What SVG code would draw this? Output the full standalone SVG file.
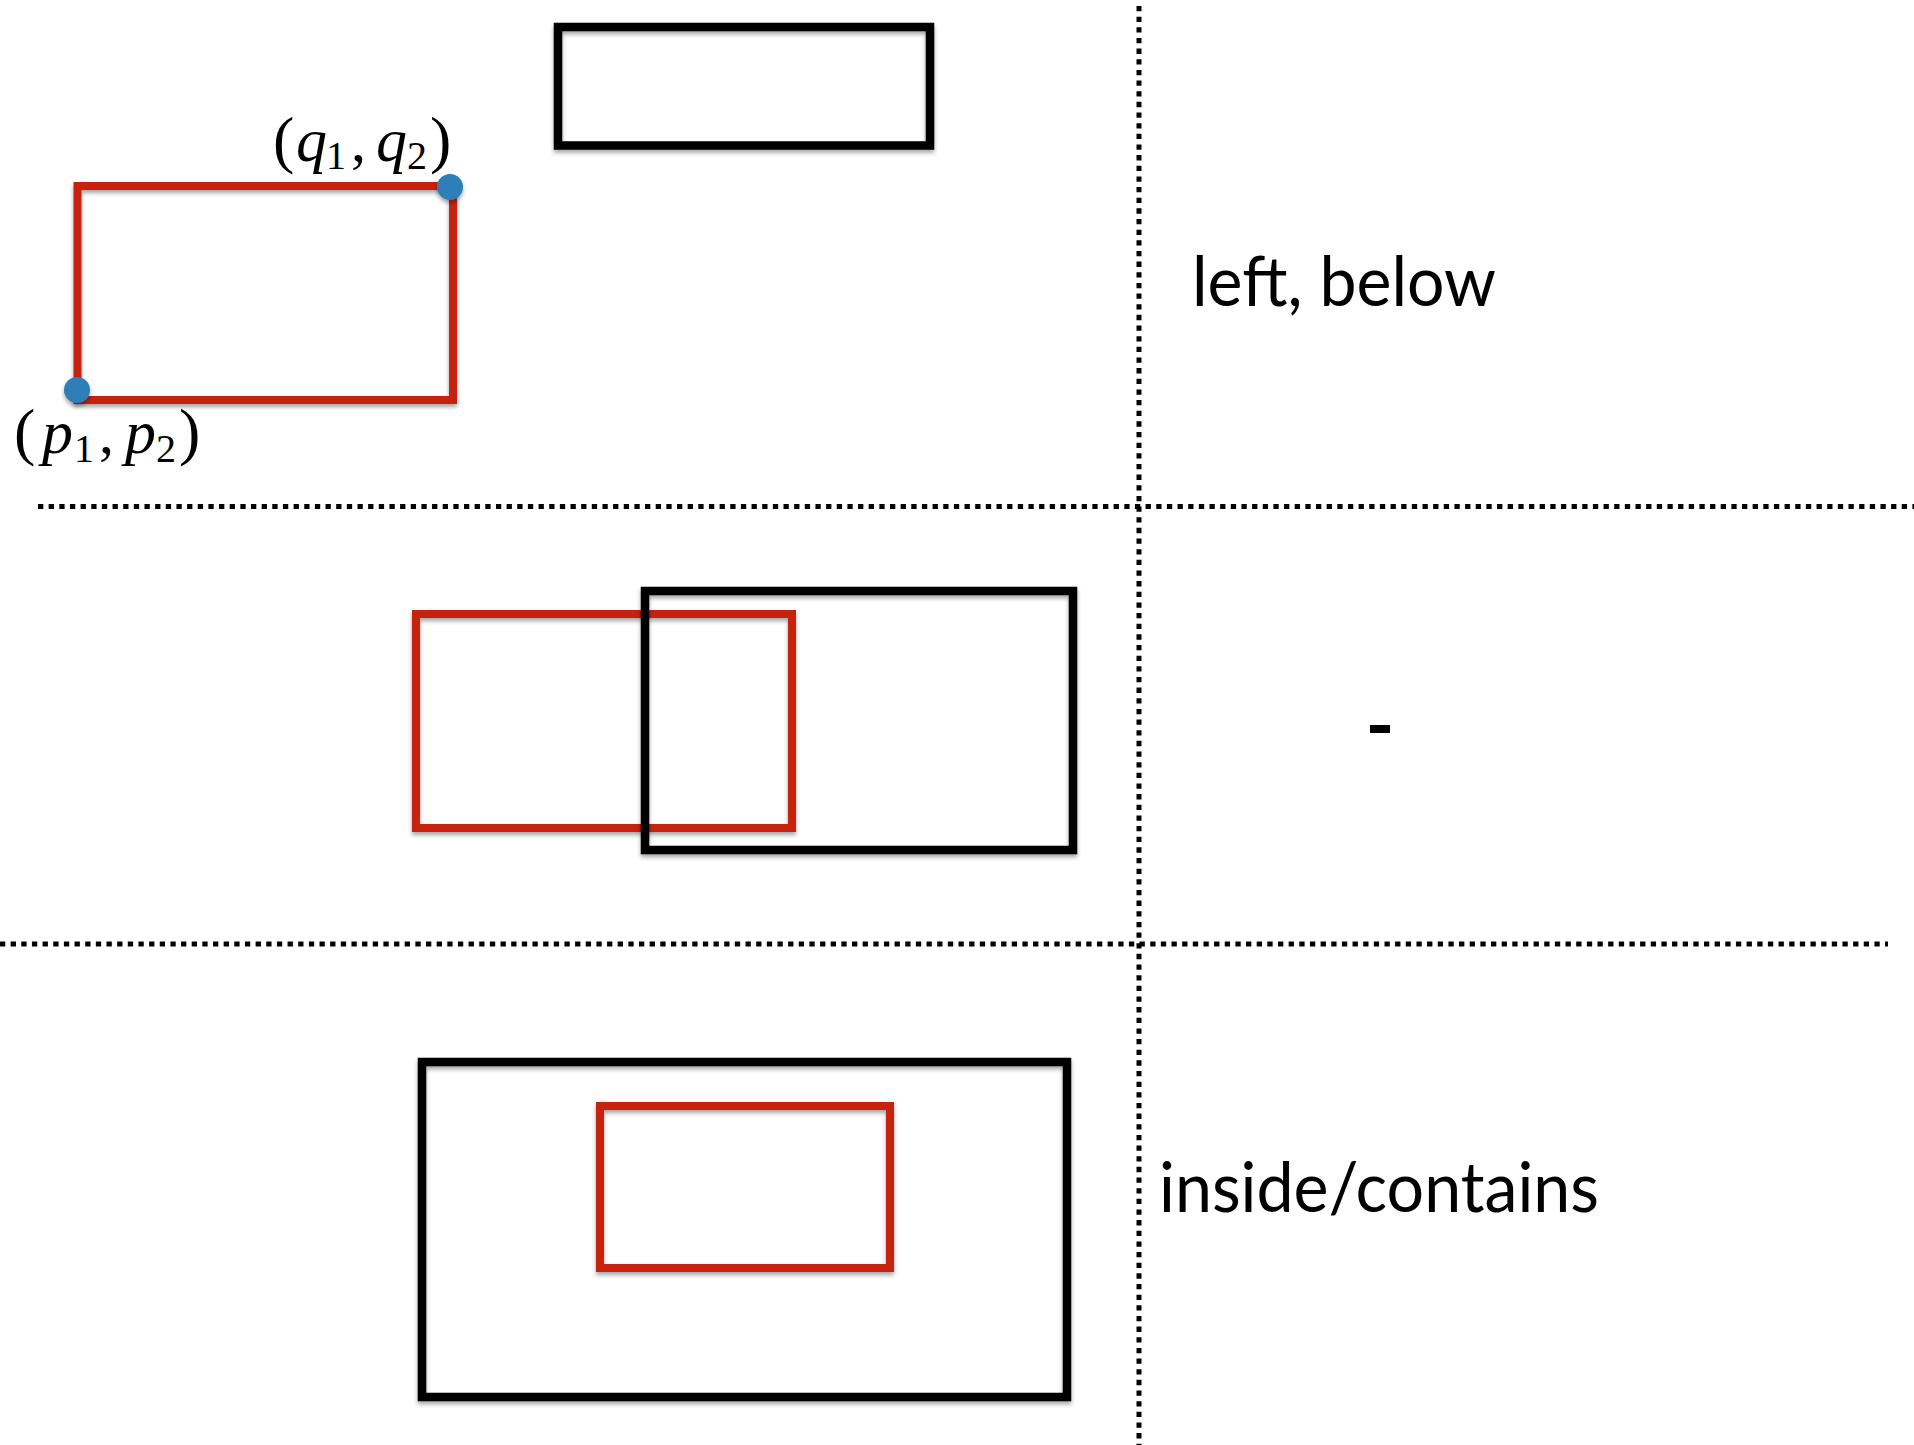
<svg xmlns="http://www.w3.org/2000/svg" width="1914" height="1445" viewBox="0 0 1914 1445">
<defs>
<filter id="sh" x="-10%" y="-10%" width="120%" height="130%">
<feDropShadow dx="0" dy="3" stdDeviation="2" flood-color="#000" flood-opacity="0.35"/>
</filter>
</defs>
<style>
.red{fill:none;stroke:#c7240b;stroke-width:8;filter:url(#sh)}
.blk{fill:none;stroke:#000;stroke-width:8.5;filter:url(#sh)}
.dot{fill:#2e7eb8;filter:url(#sh)}
.div{stroke:#000;stroke-width:5;stroke-dasharray:5.3 5.35;fill:none}
.lbl{font-family:Lato,"Open Sans",sans-serif;font-size:70px;fill:#000}
.math{font-family:"Liberation Serif","Times New Roman",serif;font-size:60px;fill:#000}
.it{font-style:italic;font-size:62px}
.sub{font-size:40px}
.par{font-size:64px}
</style>
<rect width="1914" height="1445" fill="#fff"/>
<g id="dividers">
<line class="div" x1="1139" y1="6" x2="1139" y2="1445"/>
<line class="div" x1="38" y1="506.5" x2="1914" y2="506.5"/>
<line class="div" x1="0" y1="944" x2="1888" y2="944"/>
</g>
<g id="row1">
<g id="row1-black"><rect class="blk" x="558" y="27" width="372" height="118.5"/></g>
<g id="row1-red"><rect class="red" x="77.5" y="186" width="375.5" height="214"/></g>
<g id="dot-q"><circle class="dot" cx="450" cy="187" r="13"/></g>
<g id="dot-p"><circle class="dot" cx="77" cy="390" r="13"/></g>
<g id="label-q">
<text class="math" y="161"><tspan class="par" x="273">(</tspan><tspan class="it" x="296">q</tspan><tspan class="sub" x="326" dy="8">1</tspan><tspan x="351" dy="-8">,</tspan><tspan class="it" x="376">q</tspan><tspan class="sub" x="407" dy="8">2</tspan><tspan class="par" x="430" dy="-8">)</tspan></text>
</g>
<g id="label-p">
<text class="math" y="453"><tspan class="par" x="14">(</tspan><tspan class="it" x="42">p</tspan><tspan class="sub" x="74" dy="9">1</tspan><tspan x="99" dy="-9">,</tspan><tspan class="it" x="125">p</tspan><tspan class="sub" x="156" dy="9">2</tspan><tspan class="par" x="179" dy="-9">)</tspan></text>
</g>
<g id="text-left-below"><text class="lbl" x="1192" y="306" textLength="304" lengthAdjust="spacingAndGlyphs">left, below</text></g>
</g>
<g id="row2">
<g id="row2-red"><rect class="red" x="416" y="614" width="376" height="214"/></g>
<g id="row2-black"><rect class="blk" x="645" y="591" width="428" height="259"/></g>
<g id="text-dash"><rect x="1370" y="725" width="20" height="8" fill="#000"/></g>
</g>
<g id="row3">
<g id="row3-black"><rect class="blk" x="422" y="1062" width="645" height="335"/></g>
<g id="row3-red"><rect class="red" x="600" y="1106" width="290" height="162"/></g>
<g id="text-inside"><text class="lbl" x="1159" y="1212" textLength="440" lengthAdjust="spacingAndGlyphs">inside/contains</text></g>
</g>
</svg>
